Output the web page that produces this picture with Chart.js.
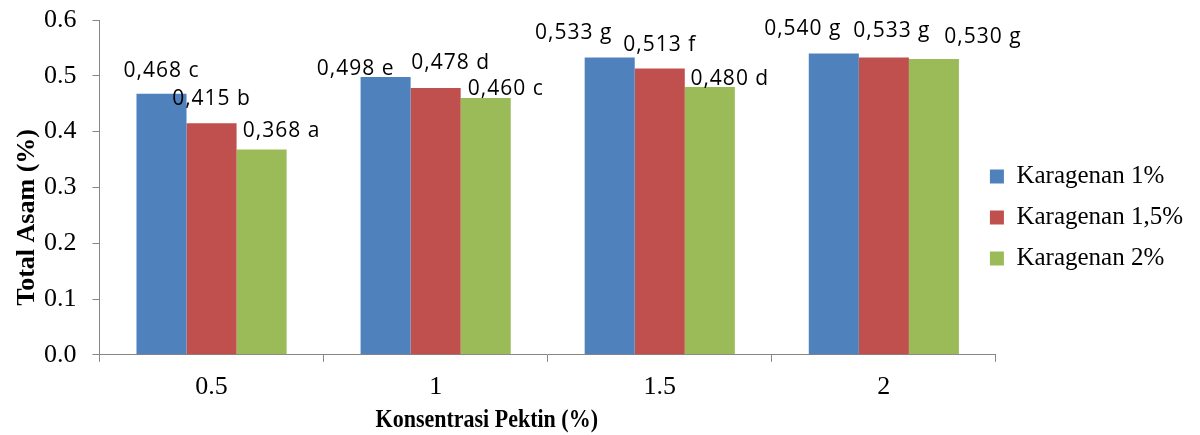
<!DOCTYPE html>
<html>
<head>
<meta charset="utf-8">
<script src="https://cdn.jsdelivr.net/npm/chart.js@4.4.1/dist/chart.umd.min.js"></script>
<style>
  html, body { margin: 0; padding: 0; background: #fff; }
  #wrap { width: 1200px; height: 435px; }
</style>
</head>
<body>
<div id="wrap"><canvas id="chart"></canvas></div>
<script>
// values
const categories = ["0.5", "1", "1.5", "2"];
const seriesNames = ["Karagenan 1%", "Karagenan 1,5%", "Karagenan 2%"];
const karagenan1 = [0.468, 0.498, 0.533, 0.540];
const karagenan15 = [0.415, 0.478, 0.513, 0.533];
const karagenan2 = [0.368, 0.460, 0.480, 0.530];
const letters1 = ["c", "e", "g", "g"];
const letters15 = ["b", "d", "f", "g"];
const letters2 = ["a", "c", "d", "g"];
const yTicks = [0.0, 0.1, 0.2, 0.3, 0.4, 0.5, 0.6];
const xTitle = "Konsentrasi Pektin (%)";
const yTitle = "Total Asam (%)";

// where each label sits relative to the top centre of its bar (dx, dy)
const shift1 = [[0, -17], [-30, -2], [-36, -18], [-31, -18]];
const shift15 = [[0, -18], [15, -19], [0, -18], [8, -20]];
const shift2 = [[20, -12], [20, -3], [20, -2], [49, -16]];

const serif = "'Liberation Serif', 'Times New Roman', serif";
const axisGrey = "#868686";

const barLabels = {
  id: "barLabels",
  afterDatasetsDraw(chart) {
    const ctx = chart.ctx;
    ctx.save();
    ctx.font = "21px 'Open Sans', sans-serif";
    ctx.fillStyle = "#000";
    ctx.textAlign = "center";
    ctx.textBaseline = "alphabetic";
    if ("letterSpacing" in ctx) ctx.letterSpacing = "1px";
    chart.data.datasets.forEach((ds, i) => {
      chart.getDatasetMeta(i).data.forEach((bar, j) => {
        const txt = ds.data[j].toFixed(3).replace(".", ",") + " " + ds.letters[j];
        const s = ds.shift[j];
        ctx.fillText(txt, bar.x + s[0], bar.y + s[1]);
      });
    });
    ctx.restore();
  }
};

// axis titles sit a little off centre in the original, so draw them here
const axisTitles = {
  id: "axisTitles",
  afterDraw(chart) {
    const ctx = chart.ctx;
    const a = chart.chartArea;
    ctx.save();
    ctx.fillStyle = "#000";
    ctx.textAlign = "center";
    ctx.textBaseline = "alphabetic";
    ctx.save();
    ctx.translate(a.left + (a.right - a.left) * 0.432, chart.height - 8);
    ctx.scale(1, 1.15);
    ctx.font = "bold 22px " + serif;
    ctx.fillText(xTitle, 0, 0);
    ctx.restore();
    ctx.translate(34, (a.top + a.bottom) / 2 + 30);
    ctx.rotate(-Math.PI / 2);
    ctx.font = "bold 26px " + serif;
    ctx.fillText(yTitle, 0, 0);
    ctx.restore();
  }
};

// keep the legend centred on the whole picture height, just right of the plot
const legendPlace = {
  id: "legendPlace",
  afterLayout(chart) {
    const lg = chart.legend;
    const dx = chart.chartArea.right - 22 - lg.left;
    lg.left += dx;
    lg.right += dx;
    lg.top = 0;
    lg.bottom = chart.height;
    lg.height = chart.height;
  }
};

const data = {
  labels: categories,
  datasets: [
    { label: seriesNames[0], data: karagenan1, letters: letters1, shift: shift1, backgroundColor: "#4F81BD" },
    { label: seriesNames[1], data: karagenan15, letters: letters15, shift: shift15, backgroundColor: "#C0504D" },
    { label: seriesNames[2], data: karagenan2, letters: letters2, shift: shift2, backgroundColor: "#9BBB59" }
  ]
};

new Chart(document.getElementById("chart"), {
  type: "bar",
  data: data,
  plugins: [barLabels, axisTitles, legendPlace],
  options: {
    responsive: true,
    maintainAspectRatio: false,
    animation: false,
    categoryPercentage: 0.67,
    barPercentage: 1.0,
    layout: { padding: { top: 20, right: -15, left: 44, bottom: 22 } },
    plugins: {
      tooltip: { enabled: false },
      legend: {
        position: "right",
        labels: {
          boxWidth: 14,
          boxHeight: 14,
          padding: 16,
          color: "#000",
          font: { family: serif, size: 25 }
        }
      }
    },
    scales: {
      x: {
        grid: { display: true, drawOnChartArea: false, drawTicks: true, tickLength: 7, color: axisGrey, offset: true },
        border: { color: axisGrey, width: 1 },
        ticks: { color: "#000", font: { family: serif, size: 26 }, padding: 10 }
      },
      y: {
        min: 0,
        max: 0.6,
        afterBuildTicks: (axis) => { axis.ticks = yTicks.map(v => ({ value: v })); },
        grid: { display: true, drawOnChartArea: false, drawTicks: true, tickLength: 7, color: axisGrey },
        border: { color: axisGrey, width: 1 },
        ticks: {
          color: "#000",
          font: { family: serif, size: 26, lineHeight: 0.9 },
          padding: 8,
          crossAlign: "far",
          callback: (v) => Number(v).toFixed(1)
        }
      }
    }
  }
});
</script>
</body>
</html>
